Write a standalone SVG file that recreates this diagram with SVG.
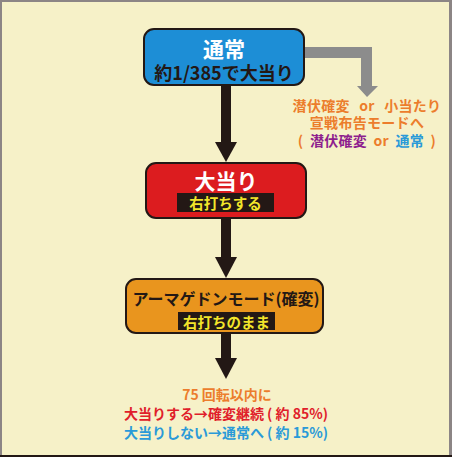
<svg xmlns="http://www.w3.org/2000/svg" width="452" height="457" viewBox="0 0 452 457">
<style>
text{font-family:"Noto Sans CJK JP","Noto Sans",sans-serif;font-weight:bold;text-anchor:middle;dominant-baseline:central}
.box{stroke:#231815;stroke-width:2}
.lab{fill:#231815}
.yel{fill:#f2e52a;font-size:14.5px}
.or{fill:#ec7d2c;font-size:14px}
.ws{word-spacing:6px;letter-spacing:0.3px}
.ws2{word-spacing:3px;letter-spacing:0.3px}
</style>
<rect x="0" y="0" width="452" height="457" fill="#8c8585"/>
<rect x="2" y="2" width="447" height="453" fill="#f6f1c8"/>
<rect x="0" y="455" width="452" height="2" fill="#231815"/>
<g id="connectors">
<rect x="221" y="86" width="10" height="58" fill="#231815"/>
<polygon points="215,142 237,142 226,162" fill="#231815"/>
<rect x="221" y="218" width="10" height="42" fill="#231815"/>
<polygon points="215,257 237,257 226,278" fill="#231815"/>
<rect x="221" y="333" width="10" height="28" fill="#231815"/>
<polygon points="215,358 237,358 226,379" fill="#231815"/>
<polygon points="304,47 372,47 372,86 378,86 367,97 357,86 361,86 361,58 304,58" fill="#8c8c8c"/>
</g>
<g id="node-normal">
<rect class="box" x="144" y="29" width="160" height="56" rx="10" fill="#1d8ed6"/>
<text x="224" y="48" fill="#ffffff" font-size="21">通常</text>
<text x="224" y="72" fill="#231815" font-size="18">約1/385で大当り</text>
</g>
<g id="node-hint">
<text class="or ws" x="367" y="105">潜伏確変 or 小当たり</text>
<text class="or ws" x="367" y="122">宣戦布告モードへ</text>
<text class="or ws2" x="367" y="140">( <tspan fill="#8e1f8e">潜伏確変</tspan> or <tspan fill="#2a9ad8">通常</tspan> )</text>
</g>
<g id="node-jackpot">
<rect class="box" x="146" y="163" width="160" height="55" rx="10" fill="#dc1c1f"/>
<text x="226" y="180" fill="#ffffff" font-size="21">大当り</text>
<rect class="lab" x="177" y="193" width="97" height="19"/>
<text class="yel" x="225.5" y="202.5">右打ちする</text>
</g>
<g id="node-armageddon">
<rect class="box" x="126" y="279" width="197" height="54" rx="10" fill="#e9951e"/>
<text x="226" y="298" fill="#231815" font-size="16">アーマゲドンモード(確変)</text>
<rect class="lab" x="178" y="312" width="97" height="18"/>
<text class="yel" x="226.5" y="321">右打ちのまま</text>
</g>
<g id="node-result">
<text class="or" x="227" y="394">75 回転以内に</text>
<text x="226" y="413" fill="#e0202a" font-size="14">大当りする→確変継続 ( 約 85%)</text>
<text x="226" y="432" fill="#2a9ad8" font-size="14">大当りしない→通常へ ( 約 15%)</text>
</g>
</svg>
